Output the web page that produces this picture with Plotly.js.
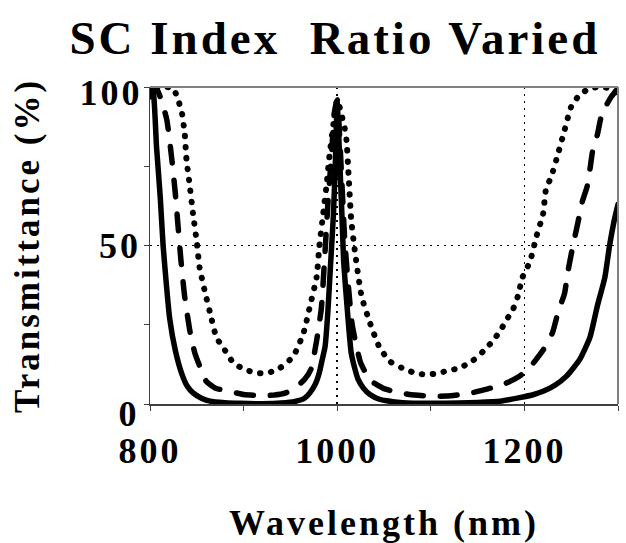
<!DOCTYPE html>
<html>
<head>
<meta charset="utf-8">
<script src="https://cdn.plot.ly/plotly-3.0.1.min.js"></script>
<style>
  html, body { margin: 0; padding: 0; background: #fff; }
  #chart { width: 626px; height: 543px; }
  path.js-line { stroke-linecap: round; stroke-linejoin: round; }
  text.gtitle, text.xtitle, text.ytitle, g.xtick text, g.ytick text, g.annotation text { letter-spacing: 3px; }
</style>
</head>
<body>
<div id="chart"></div>
<script>
// Wavelength (nm) and transmittance (%)
var solidX = [800, 803, 807, 811, 814, 818, 821, 827, 834, 840, 846, 855, 864, 880, 896, 920, 940, 955, 965, 971, 977, 981, 984, 987, 990, 993, 996, 998, 1000, 1002, 1005, 1007, 1011, 1015, 1019, 1022, 1028, 1035, 1045, 1053, 1070, 1100, 1130, 1150, 1174, 1195, 1210, 1220, 1233, 1245, 1259, 1270, 1278, 1286, 1291, 1296, 1300];
var solidY = [98, 99, 81, 65, 50, 36, 27, 17, 9.5, 5.5, 3.5, 1.8, 0.9, 0.4, 0.2, 0.1, 0.3, 0.8, 1.8, 3.6, 6.5, 10, 14, 18, 29, 44.5, 60, 76, 95, 82, 60, 44.5, 29, 16, 11, 8, 5, 3, 1.5, 1, 0.4, 0.2, 0.3, 0.5, 0.9, 2, 3, 4, 6, 8.8, 14, 21, 31, 40, 50, 58, 63];

var dashX = [800, 806, 812, 818, 823, 827, 830, 833, 837, 843, 848, 853, 860, 870, 885, 900, 915, 932, 945, 957, 965, 972, 978, 983, 987, 990, 994, 997, 1000, 1003, 1008, 1012, 1016, 1020, 1025, 1030, 1035, 1049, 1060, 1077, 1100, 1117, 1140, 1159, 1180, 1195, 1207, 1220, 1230, 1236, 1243, 1246, 1251, 1257, 1262, 1267, 1270, 1273, 1278, 1282, 1288, 1293, 1300];
var dashY = [99, 100, 96, 89.6, 78, 66.6, 56, 45.5, 34, 22.4, 16, 12, 7.2, 5, 4, 3, 2.7, 2.8, 3.5, 5.6, 7.7, 11, 20, 30, 48, 63, 79, 92, 96, 82, 52, 37, 25, 19, 13, 10, 7.5, 5, 4, 3, 2.5, 2.5, 3.3, 4.6, 6.5, 8.8, 12, 17, 22.5, 29, 35, 41, 48.7, 57, 64, 68.6, 74, 80, 85, 90.6, 94.5, 97, 99.6];

var dotX = [800, 806, 812, 818, 825, 830, 834, 837, 839, 842, 846, 850, 853, 859, 864, 871, 880, 889, 901, 914, 926, 939, 953, 964, 971, 978, 981, 985, 989, 992, 996, 1000, 1004, 1008, 1010, 1012, 1015, 1019, 1026, 1035, 1045, 1056, 1069, 1081, 1093, 1106, 1118, 1131, 1145, 1156, 1166, 1174, 1181, 1188, 1193, 1198, 1206, 1213, 1220, 1223, 1229, 1236, 1243, 1250, 1259, 1270, 1282, 1292, 1300];
var dotY = [97, 99.5, 100, 100, 99.5, 96, 92, 85.5, 77, 70, 60, 51, 43, 35, 29, 21, 17, 13, 10.9, 9.8, 9.8, 11.4, 15, 22.4, 31, 40, 50, 60, 70, 79, 88.5, 96, 92, 87, 83, 73, 58, 48, 34, 25.6, 18, 13.5, 11.4, 10, 9.3, 9.6, 10.5, 11.4, 13.7, 16.6, 19.8, 23, 26.6, 30, 34, 40, 45, 53, 60, 67.6, 72, 79, 86.5, 93.8, 97.5, 99.6, 100, 99.5, 98];

var chartTitle = 'SC Index&nbsp; Ratio Varied';
var xTitle = 'Wavelength (nm)';
var yTitle = 'Transmittance (%)';
var xMajorTicks = [800, 1000, 1200];
var xTickLabels = ['800', '1000', '1200'];
var yMajorTicks = [0, 50, 100];
var yTickLabels = ['0', '50', '100'];

var serif = '"Liberation Serif", "Times New Roman", Times, serif';
var tickFont = { family: serif, size: 36, color: '#000', weight: 'bold' };

var traces = [
  { x: dotX, y: dotY, mode: 'lines', line: { color: '#000', width: 6, dash: '0.5px,10.5px', shape: 'spline', smoothing: 0.5 }, hoverinfo: 'skip' },
  { x: dashX, y: dashY, mode: 'lines', line: { color: '#000', width: 5.5, dash: '17px,17px', shape: 'spline', smoothing: 0.5 }, hoverinfo: 'skip' },
  { x: solidX, y: solidY, mode: 'lines', line: { color: '#000', width: 5.5, shape: 'spline', smoothing: 0.5 }, hoverinfo: 'skip' }
];

// y tick labels as annotations (end labels nudged inward like the original)
var yLabelShift = [-10, 0, -6];
var annotations = yMajorTicks.map(function (v, i) {
  return {
    xref: 'paper', yref: 'y', x: 0, y: v, text: yTickLabels[i],
    showarrow: false, xanchor: 'right', yanchor: 'middle',
    xshift: -10, yshift: yLabelShift[i], font: tickFont
  };
});

var layout = {
  width: 626, height: 543,
  margin: { l: 150, r: 7.5, t: 87, b: 138.5, pad: 0 },
  paper_bgcolor: '#fff', plot_bgcolor: '#fff',
  showlegend: false,
  font: { family: serif },
  title: {
    text: chartTitle,
    font: { family: serif, size: 47, color: '#000', weight: 'bold' },
    x: 0.535, xref: 'container', xanchor: 'center',
    y: 0.93, yref: 'container', yanchor: 'middle'
  },
  xaxis: {
    range: [800, 1300],
    tickmode: 'array', tickvals: xMajorTicks, ticktext: xTickLabels,
    ticks: 'outside', ticklen: 5, tickwidth: 1, tickcolor: '#404040',
    minor: { tickmode: 'linear', tick0: 800, dtick: 100, ticks: 'outside', ticklen: 5, tickwidth: 1, tickcolor: '#404040', showgrid: false },
    showgrid: true, gridcolor: '#000', gridwidth: 1.5, griddash: '2px,5px',
    showline: true, linecolor: '#404040', linewidth: 1.5,
    zeroline: false,
    tickfont: tickFont,
    ticklabelstandoff: 9,
    title: { text: xTitle, font: { family: serif, size: 36, color: '#000', weight: 'bold' }, standoff: 43 },
    automargin: false
  },
  yaxis: {
    range: [0, 100],
    tickmode: 'array', tickvals: yMajorTicks,
    showticklabels: false,
    ticks: 'outside', ticklen: 5, tickwidth: 1, tickcolor: '#404040',
    minor: { tickmode: 'linear', tick0: 0, dtick: 25, ticks: 'outside', ticklen: 5, tickwidth: 1, tickcolor: '#404040', showgrid: false },
    showgrid: true, gridcolor: '#000', gridwidth: 1.5, griddash: '2px,5px',
    showline: true, linecolor: '#404040', linewidth: 1.5,
    zeroline: false,
    title: { text: yTitle, font: { family: serif, size: 35, color: '#000', weight: 'bold' }, standoff: 93 },
    automargin: false
  },
  annotations: annotations,
  shapes: [
    { type: 'line', xref: 'paper', yref: 'paper', x0: 0, x1: 1, y0: 1, y1: 1, line: { color: '#808080', width: 2 }, layer: 'above' },
    { type: 'line', xref: 'paper', yref: 'paper', x0: 1, x1: 1, y0: 0, y1: 1, line: { color: '#808080', width: 2 }, layer: 'above' }
  ]
};

Plotly.newPlot('chart', traces, layout, { staticPlot: true, displayModeBar: false });
</script>
</body>
</html>
